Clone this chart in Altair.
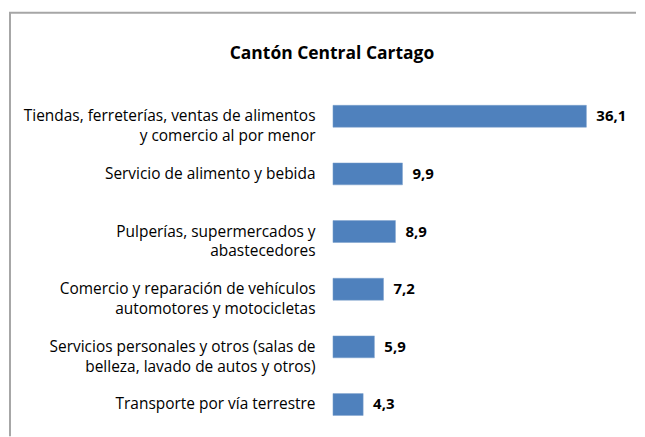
import altair as alt
import pandas as pd

categories = [
    "Tiendas, ferreterías, ventas de alimentos|y comercio al por menor",
    "Servicio de alimento y bebida",
    "Pulperías, supermercados y|abastecedores",
    "Comercio y reparación de vehículos|automotores y motocicletas",
    "Servicios personales y otros (salas de|belleza, lavado de autos y otros)",
    "Transporte por vía terrestre",
]
values = [36.1, 9.9, 8.9, 7.2, 5.9, 4.3]

df = pd.DataFrame({"cat": categories, "val": values})

W, H = 300, 347
FRAME = "#a6a6a6"
FONT = "Open Sans"

base = alt.Chart(df).encode(
    y=alt.Y(
        "cat:N",
        sort=categories,
        title=None,
        scale=alt.Scale(paddingInner=0.62, paddingOuter=0.31),
        axis=alt.Axis(
            ticks=False,
            domain=False,
            grid=False,
            labelPadding=18,
            labelFont=FONT,
            labelFontSize=15.5,
            labelColor="#000000",
            labelLimit=400,
            labelLineHeight=20,
            labelExpr="split(datum.label, '|')",
        ),
    ),
    x=alt.X("val:Q", axis=None, scale=alt.Scale(domain=[0, 42.6], nice=False, zero=True)),
)

bars = base.mark_bar(color="#4F81BD", stroke="#7BA0CD", strokeWidth=0.5)

labels = base.transform_calculate(
    lab="replace(format(datum.val, '.1f'), '.', ',')"
).mark_text(
    align="left", baseline="middle", dx=10, font=FONT, fontSize=15,
    fontWeight="bold", color="#000000"
).encode(text="lab:N")

one = alt.Data(values=[{"a": 1}])
vrule = alt.Chart(one).mark_rule(color=FRAME, strokeWidth=2).encode(
    x=alt.value(-324), y=alt.value(-75), y2=alt.value(350)
)
hrule = alt.Chart(one).mark_rule(color=FRAME, strokeWidth=2).encode(
    x=alt.value(-325), x2=alt.value(304), y=alt.value(-75)
)

chart = alt.layer(bars, labels, vrule, hrule).properties(
    width=W,
    height=H,
    padding={"left": 0, "top": 3, "right": 0, "bottom": 0},
    title=alt.TitleParams(
        "Cantón Central Cartago",
        font=FONT,
        fontSize=17.5,
        fontWeight="bold",
        color="#000000",
        anchor="middle",
        frame="group",
        dx=-151,
        offset=-51,
    ),
).configure(background="white").configure_view(stroke=None)

chart.save("out.html", embed_options={"renderer": "svg", "actions": False})
